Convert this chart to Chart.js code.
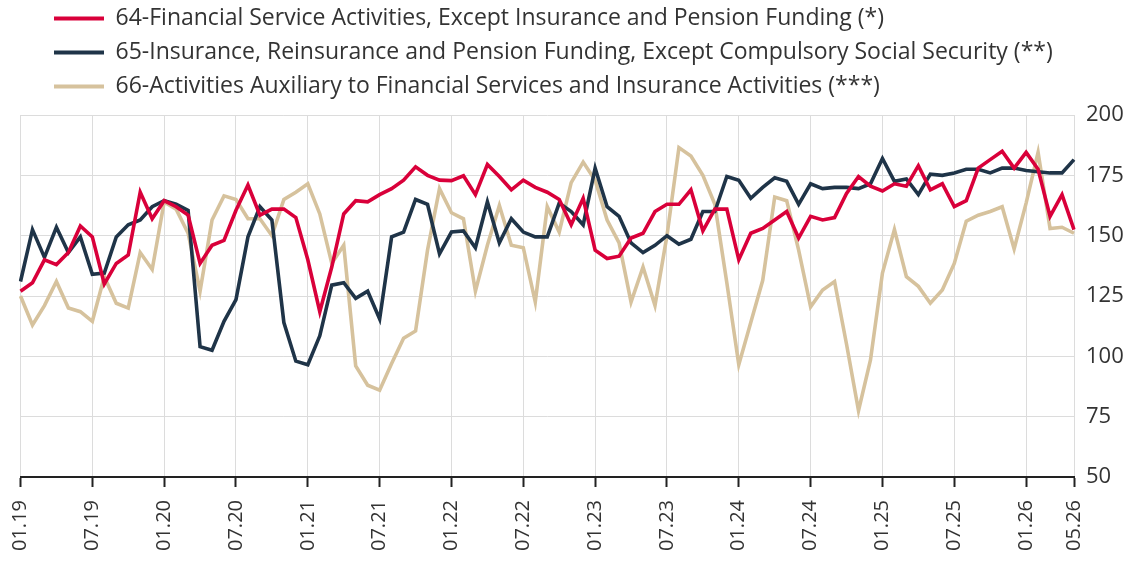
<!DOCTYPE html>
<html>
<head>
<meta charset="utf-8">
<script src="https://cdn.jsdelivr.net/npm/chart.js@4.4.1/dist/chart.umd.min.js"></script>
<style>
html,body{margin:0;padding:0;background:#fff;}
#wrap{width:1127px;height:563px;position:relative;}
</style>
</head>
<body>
<div id="wrap"><canvas id="c"></canvas></div>
<script>
const categories = [
 '01.19','02.19','03.19','04.19','05.19','06.19','07.19','08.19','09.19','10.19','11.19','12.19',
 '01.20','02.20','03.20','04.20','05.20','06.20','07.20','08.20','09.20','10.20','11.20','12.20',
 '01.21','02.21','03.21','04.21','05.21','06.21','07.21','08.21','09.21','10.21','11.21','12.21',
 '01.22','02.22','03.22','04.22','05.22','06.22','07.22','08.22','09.22','10.22','11.22','12.22',
 '01.23','02.23','03.23','04.23','05.23','06.23','07.23','08.23','09.23','10.23','11.23','12.23',
 '01.24','02.24','03.24','04.24','05.24','06.24','07.24','08.24','09.24','10.24','11.24','12.24',
 '01.25','02.25','03.25','04.25','05.25','06.25','07.25','08.25','09.25','10.25','11.25','12.25',
 '01.26','02.26','03.26','04.26','05.26'
];
const tickLabels = ['01.19','07.19','01.20','07.20','01.21','07.21','01.22','07.22','01.23','07.23','01.24','07.24','01.25','07.25','01.26','05.26'];
const yTicks = [50,75,100,125,150,175,200];

const names = [
 '64-Financial Service Activities, Except Insurance and Pension Funding (*)',
 '65-Insurance, Reinsurance and Pension Funding, Except Compulsory Social Security (**)',
 '66-Activities Auxiliary to Financial Services and Insurance Activities (***)'
];

const s64 = [127,130.5,140,138,143,154,149.5,130,138.5,142,168,157,164.5,162,158.5,
 138.5,146,148,160.5,171,158.5,161,161,157.5,140,118.5,137,159,164.5,164,
 167,169.5,173,178.5,175,173,172.8,174.8,167,179.5,174.5,169,173,170,168,
 165,154.5,165.5,144,140.5,141.5,149,151,160,163,163,169,152,161,161,
 140,151,153,156.5,160,149,158,156.5,157.5,167.5,174.5,170.5,168.5,171.5,170.5,
 179,169,171.5,162,164.5,178,181.5,185,178,184.5,177.5,158,167,152.5];

const s65 = [131,152.5,141,153.5,143,149.5,134,134.5,149.5,154.5,156.5,162,164.5,163,160.5,
 104,102.5,114.5,123.5,149.5,162,156.5,114,98,96.5,108.5,129.5,130.5,124,127,
 115.5,149.5,151.5,165,163,142.5,151.5,152,145,164,147,157,151.5,149.5,149.5,
 163.5,160,154.5,178,162,158,147,143,146,150,146.5,148.5,160,160,174.5,
 173,165.5,170,174,172.5,163,171.5,169.5,170,170,169.5,171.5,182,172.5,173.5,
 167,175.5,175,176,177.5,177.5,176,178,178,177,176.5,176,176,181.5];

const s66 = [125,113,121,131,120,118.5,114.5,133,122,120,143,136,164,161,151,
 127,156.5,166.5,165,157,157,150,165,168,171.5,159,138.5,146,96,88,
 86,97,107.5,110.5,144,169.5,159.5,157,127,146,162.5,146,145,122.5,162,
 151.5,172,180.5,173,156.5,147,122.5,137,121,150,186.5,183,175,163,130.5,
 96.5,114,131.5,166,164.5,144,120.5,127.5,131,105,77.5,98.5,134.5,152.5,133,
 129,122,127.5,138.5,156,158.5,160,162,144.5,163.5,184.5,153,153.5,151];

const colors = ['#d9003a','#1f3448','#d6c29d'];

const shown = (i) => tickLabels.includes(categories[i]);

const legendFix = {
  id: 'legendFix',
  afterInit(chart) {
    const lg = chart.legend;
    if (lg) {
      const f = lg.fit.bind(lg);
      lg.fit = function () { f(); this.height = 115; };
    }
  },
  afterLayout(chart) {
    const lg = chart.legend;
    if (lg) { lg.left = 43; lg.top = -4; }
  }
};

new Chart(document.getElementById('c'), {
  type: 'line',
  data: {
    labels: categories,
    datasets: [s64, s65, s66].map((d, k) => ({
      label: names[k],
      data: d,
      borderColor: colors[k],
      backgroundColor: colors[k],
      borderWidth: 3.6,
      pointRadius: 0,
      tension: 0,
      order: k === 2 ? 3 : (k === 0 ? 1 : 2)
    }))
  },
  options: {
    responsive: true,
    maintainAspectRatio: false,
    animation: false,
    layout: { padding: { top: 0, left: 20.5, right: 0, bottom: 0 } },
    plugins: {
      tooltip: { enabled: false },
      legend: {
        position: 'top',
        align: 'start',
        labels: {
          font: { family: 'Open Sans', size: 23 },
          color: '#333',
          boxWidth: 50,
          boxHeight: 4,
          padding: 11,
          generateLabels(chart) {
            return chart.data.datasets.map((ds, i) => ({
              text: ds.label, fillStyle: ds.borderColor, strokeStyle: ds.borderColor,
              lineWidth: 0, hidden: false, datasetIndex: i, fontColor: '#333'
            }));
          }
        }
      }
    },
    scales: {
      x: {
        type: 'category',
        offset: false,
        grid: {
          color: (c) => shown(c.index) ? '#dcdcdc' : 'rgba(0,0,0,0)',
          tickColor: (c) => shown(c.index) ? '#222' : 'rgba(0,0,0,0)',
          tickLength: 10,
          tickWidth: 2,
          lineWidth: 1
        },
        border: { color: '#222', width: 2 },
        ticks: {
          autoSkip: false,
          minRotation: 90,
          maxRotation: 90,
          padding: 13,
          color: '#333',
          font: { family: 'Open Sans', size: 20 },
          callback: (v, i) => shown(i) ? categories[i] : ''
        },
        afterFit: (s) => { s.height = 86; }
      },
      y: {
        position: 'right',
        min: 50,
        max: 200,
        afterBuildTicks: (s) => { s.ticks = yTicks.map(v => ({ value: v })); },
        grid: { color: '#dcdcdc', drawTicks: false, lineWidth: 1 },
        border: { display: false },
        ticks: {
          color: '#333',
          padding: 12,
          font: { family: 'Open Sans', size: 22 }
        },
        afterFit: (s) => { s.width = 53; }
      }
    }
  },
  plugins: [legendFix]
});
</script>
</body>
</html>
